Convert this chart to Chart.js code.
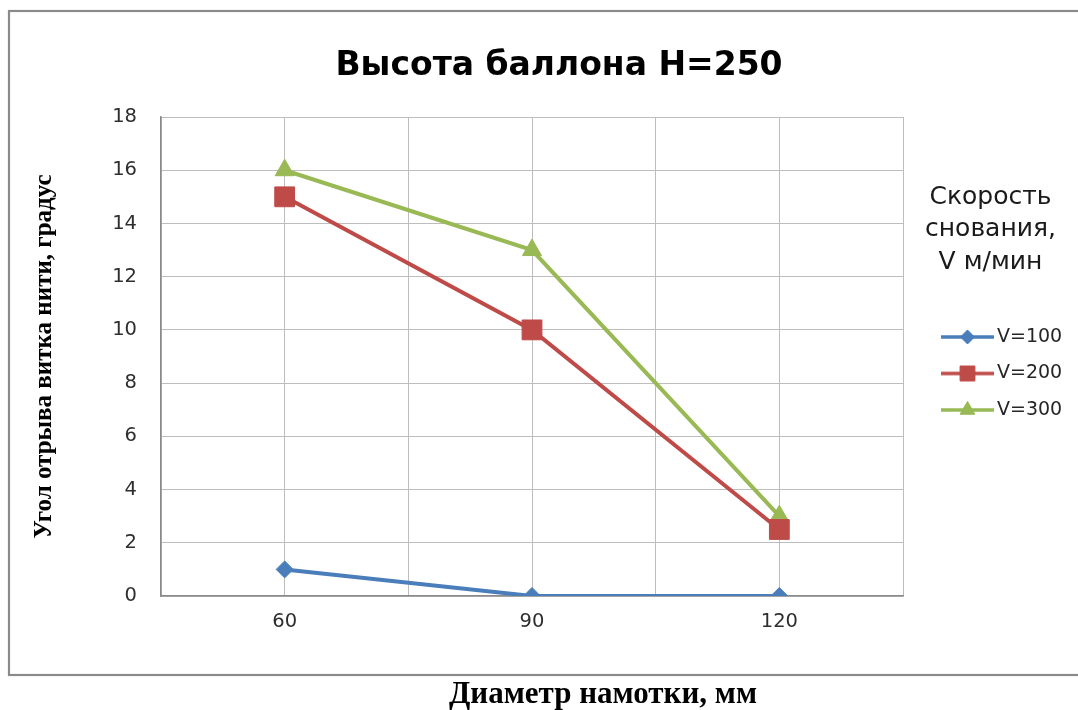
<!DOCTYPE html>
<html>
<head>
<meta charset="utf-8">
<script src="https://cdn.jsdelivr.net/npm/chart.js@4.4.1/dist/chart.umd.min.js"></script>
<style>
  html, body { margin: 0; padding: 0; background: #ffffff; }
  #wrap { width: 1078px; height: 710px; }
</style>
</head>
<body>
<div id="wrap"><canvas id="chart" width="1078" height="710"></canvas></div>
<script>
// Winding diameter, mm
const diameters = [60, 90, 120];
// Thread separation angle, degrees, for each warping speed
const v100 = [1, 0, 0];
const v200 = [15, 10, 2.5];
const v300 = [16, 13, 3];
const seriesNames = ['V=100', 'V=200', 'V=300'];
const seriesColors = ['#4a7ebb', '#be4b48', '#98b954'];

const chartTitle = 'Высота баллона H=250';
const xTitle = 'Диаметр намотки, мм';
const yTitle = 'Угол отрыва витка нити, градус';
const legendTitle = ['Скорость', 'снования,', 'V м/мин'];

const toPoints = (vals) => diameters.map((d, i) => ({ x: d, y: vals[i] }));

// Legend sample: a short line with the series marker on it
function legendIcon(color, style, radius) {
  const c = document.createElement('canvas');
  c.width = 80; c.height = 26;
  const g = c.getContext('2d');
  g.strokeStyle = color;
  g.lineWidth = 3.5;
  g.beginPath(); g.moveTo(27, 13); g.lineTo(80, 13); g.stroke();
  g.fillStyle = color;
  g.strokeStyle = color;
  g.lineWidth = 1;
  Chart.helpers.drawPoint(g, { pointStyle: style, radius: radius, borderWidth: 1, rotation: 0 }, 53.5, 13);
  return c;
}
const icons = [
  legendIcon(seriesColors[0], 'rectRot', 7),
  legendIcon(seriesColors[1], 'rect', 10.5),
  legendIcon(seriesColors[2], 'triangle', 8.5)
];

// Outer border of the chart object
const framePlugin = {
  id: 'frame',
  beforeDraw(chart, args, o) {
    const ctx = chart.ctx;
    ctx.save();
    ctx.strokeStyle = o.color;
    ctx.lineWidth = o.width;
    ctx.strokeRect(o.left, o.top, o.right - o.left, o.bottom - o.top);
    ctx.restore();
  }
};

// Fixed width for the legend column
const legendBoxPlugin = {
  id: 'legendBox',
  beforeLayout(chart, args, o) {
    const lg = chart.legend;
    if (lg && !lg._fixedWidth) {
      const fit = lg.fit;
      lg.fit = function () { fit.call(this); this.width = o.width; };
      lg._fixedWidth = true;
    }
  }
};

// Horizontal offset of the caption axis below the plot
const captionShiftPlugin = {
  id: 'captionShift',
  afterLayout(chart, args, o) {
    const s = chart.scales.xCaption;
    if (s) { s.left += o.dx; s.right += o.dx; }
  }
};

const tickFont = { family: 'DejaVu Sans', size: 19.5 };

new Chart(document.getElementById('chart'), {
  type: 'line',
  data: {
    datasets: [
      { label: seriesNames[0], data: toPoints(v100), borderColor: seriesColors[0], backgroundColor: seriesColors[0],
        pointStyle: 'rectRot', pointRadius: 8.5, pointBorderWidth: 1 },
      { label: seriesNames[1], data: toPoints(v200), borderColor: seriesColors[1], backgroundColor: seriesColors[1],
        pointStyle: 'rect', pointRadius: 14, pointBorderWidth: 1 },
      { label: seriesNames[2], data: toPoints(v300), borderColor: seriesColors[2], backgroundColor: seriesColors[2],
        pointStyle: 'triangle', pointRadius: 11, pointBorderWidth: 1 }
    ].map(d => Object.assign(d, { borderWidth: 4, tension: 0, fill: false, pointHoverRadius: d.pointRadius }))
  },
  options: {
    responsive: false,
    animation: false,
    devicePixelRatio: 1,
    layout: { padding: { left: 40, right: 0, top: 0, bottom: 0 } },
    scales: {
      x: {
        type: 'linear',
        min: 45, max: 135,
        afterFit(s) { s.height = 74; },
        grid: { color: '#bdbdbd', lineWidth: 1, drawTicks: false },
        border: { display: true, color: '#8a8a8a', width: 1.5 },
        ticks: {
          stepSize: 15, padding: 14, color: '#2e2e2e', font: tickFont,
          callback: (v) => diameters.includes(v) ? String(v) : ''
        }
      },
      xCaption: {
        type: 'linear',
        position: 'bottom',
        weight: 10,
        afterFit(s) { s.height = 40; },
        grid: { display: false, drawTicks: false },
        border: { display: false },
        ticks: { display: false },
        title: {
          display: true, text: xTitle, color: '#000000',
          font: { family: 'Liberation Serif', weight: 'bold', size: 31, lineHeight: 1 },
          padding: { top: 0, bottom: 0 }
        }
      },
      y: {
        min: 0, max: 18,
        afterFit(s) { s.width = 121; },
        grid: { color: '#bdbdbd', lineWidth: 1, drawTicks: false },
        border: { display: true, color: '#8a8a8a', width: 1.5 },
        ticks: { stepSize: 2, padding: 24, color: '#2e2e2e', font: tickFont },
        title: {
          display: true, text: yTitle, color: '#000000',
          font: { family: 'Liberation Serif', weight: 'bold', size: 25, lineHeight: 0.4 },
          padding: { top: 0, bottom: 0 }
        }
      }
    },
    plugins: {
      title: {
        display: true, text: chartTitle, color: '#000000',
        font: { family: 'DejaVu Sans', weight: 'bold', size: 33, lineHeight: 1.2 },
        padding: { top: 47, bottom: 30.4 }
      },
      legend: {
        position: 'right',
        align: 'start',
        title: {
          display: true, text: legendTitle, position: 'center', color: '#1a1a1a',
          font: { family: 'DejaVu Sans', size: 25, lineHeight: 1.3 },
          padding: { top: 184.5, bottom: 93 }
        },
        labels: {
          usePointStyle: true,
          pointStyleWidth: 67,
          padding: 17.5,
          color: '#262626',
          font: { family: 'DejaVu Sans', size: 19 },
          generateLabels: (chart) => chart.data.datasets.map((ds, i) => ({
            text: ds.label, pointStyle: icons[i], fillStyle: ds.borderColor, strokeStyle: ds.borderColor,
            lineWidth: 0, hidden: false, datasetIndex: i, fontColor: '#262626'
          }))
        }
      },
      tooltip: { enabled: false },
      frame: { left: 9, top: 11, right: 1095, bottom: 675, color: '#8a8a8a', width: 2.2 },
      legendBox: { width: 175 },
      captionShift: { dx: 71 }
    }
  },
  plugins: [framePlugin, legendBoxPlugin, captionShiftPlugin]
});
</script>
</body>
</html>
